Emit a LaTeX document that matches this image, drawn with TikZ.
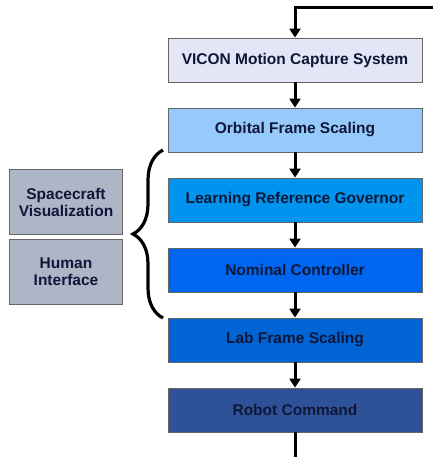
\documentclass[tikz,border=0pt]{standalone}
\usepackage{fontspec}
\setmainfont{Liberation Sans}
\usetikzlibrary{arrows.meta,decorations.pathreplacing}
\definecolor{viconfill}{RGB}{226,230,246}
\definecolor{orbitfill}{RGB}{150,202,250}
\definecolor{lrgfill}{RGB}{0,148,238}
\definecolor{nomfill}{RGB}{0,102,240}
\definecolor{labfill}{RGB}{0,100,212}
\definecolor{robotfill}{RGB}{46,82,152}
\definecolor{sidefill}{RGB}{172,182,198}
\definecolor{txtnavy}{RGB}{15,22,55}
\tikzstyle{block} = [draw=black!60, line width=.8pt, minimum width=254pt, minimum height=44pt, inner sep=0pt, text=txtnavy, font=\bfseries\fontsize{15.5}{17}\selectfont]
\tikzstyle{sidebox} = [block, fill=sidefill, minimum width=113pt, minimum height=65pt, align=center]
\tikzstyle{flow} = [line width=3pt, -{Triangle[length=9pt,width=11pt]}]

\begin{document}
\begin{tikzpicture}[x=1pt,y=-1pt]
    \useasboundingbox (0,0) rectangle (433,457);
    \draw (295,60) node[block, fill=viconfill] (vicon) {VICON Motion Capture System};
    \draw (295,130) node[block, fill=orbitfill] (orbit) {Orbital Frame Scaling};
    \draw (295,200) node[block, fill=lrgfill] (lrg) {Learning Reference Governor};
    \draw (295,270) node[block, fill=nomfill] (nom) {Nominal Controller};
    \draw (295,340) node[block, fill=labfill] (lab) {Lab Frame Scaling};
    \draw (295,410) node[block, fill=robotfill] (robot) {Robot Command};
    \draw (66,202) node[sidebox] (viz) {Spacecraft\\Visualization};
    \draw (66,272) node[sidebox] (hmi) {Human\\Interface};
    \coordinate (loopin) at (433,8);
    \coordinate (loopout) at (295,457);
    \draw [flow] (loopin) -| (vicon);
    \draw [flow] (vicon) -- (orbit);
    \draw [flow] (orbit) -- (lrg);
    \draw [flow] (lrg) -- (nom);
    \draw [flow] (nom) -- (lab);
    \draw [flow] (lab) -- (robot);
    \draw [line width=3pt] (robot) -- (loopout);
    \draw [line width=3.2pt, decorate, decoration={brace, amplitude=30pt}] (163,318) -- (163,150);
\end{tikzpicture}
\end{document}
